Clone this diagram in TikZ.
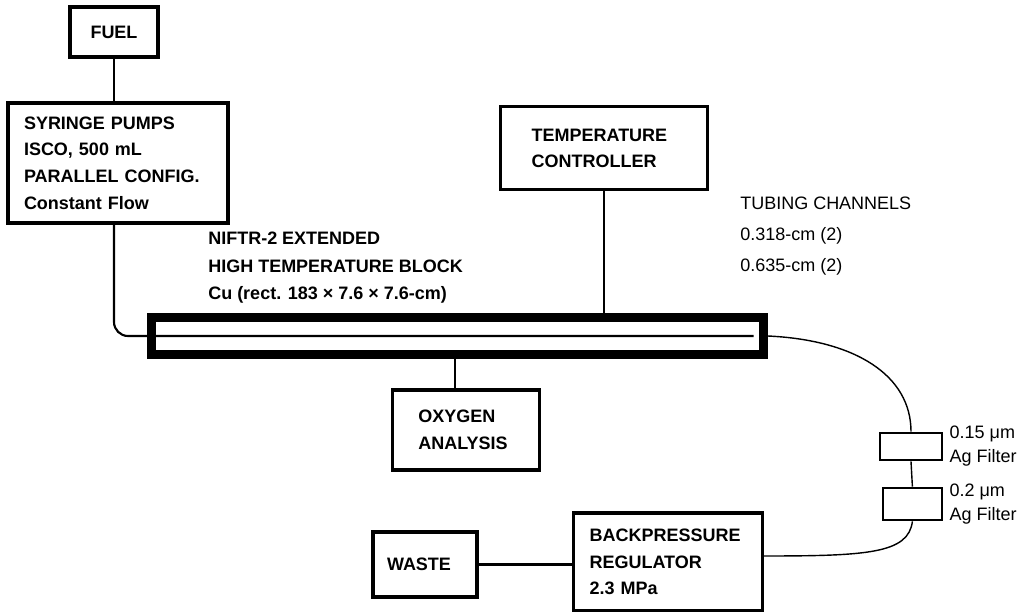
\documentclass[tikz,border=0pt]{standalone}
\usepackage{fontspec}
\setmainfont{Liberation Sans}
\usepackage{tikz}
\usetikzlibrary{positioning}

\begin{document}
\begin{tikzpicture}[
  unit/.style={draw,line width=2.2pt,align=left,inner xsep=0.38cm,
               font=\bfseries\fontsize{12.8}{19}\selectfont},
  blockbody/.style={draw,line width=6.4pt,minimum width=15.3cm,minimum height=0.94cm,inner sep=0pt},
  filt/.style={draw,line width=2pt,inner sep=0pt},
  note/.style={align=left,anchor=west,inner sep=0pt,font=\fontsize{12.8}{19}\selectfont},
  pipe/.style={line width=1.5pt},
  tube/.style={line width=1pt}]

  \useasboundingbox (0,0) rectangle (25.775,15.3);

  \node[unit,align=center,minimum width=2.2cm,minimum height=1.25cm] (fuel) at (2.85,14.5) {FUEL};
  \node[unit,text width=4.7cm,minimum width=5.5cm,minimum height=3cm] (pumps) at (2.95,11.225)
       {SYRINGE PUMPS\\ISCO, 500 mL\\PARALLEL CONFIG.\\Constant Flow};
  \node[unit,inner xsep=0.75cm,text width=3.6cm,minimum width=5.175cm,minimum height=2.075cm] (tempctl) at (15.09,11.59)
       {TEMPERATURE\\CONTROLLER};
  \node[blockbody] (block) at (11.43,6.9) {};
  \node[unit,inner xsep=0.62cm,text width=2.4cm,minimum width=3.675cm,minimum height=2cm] (oxygen) at (11.66,4.55)
       {OXYGEN\\ANALYSIS};
  \node[unit,inner xsep=0.35cm,text width=1.9cm,minimum width=2.6cm,minimum height=1.625cm] (waste) at (10.625,1.1875) {WASTE};
  \node[unit,inner xsep=0.4cm,text width=3.9cm,minimum width=4.725cm,minimum height=2.45cm] (bpr) at (16.69,1.25)
       {BACKPRESSURE\\REGULATOR\\2.3 MPa};
  \node[filt,minimum width=1.55cm,minimum height=0.675cm] (filterA) at (22.775,4.1375) {};
  \node[filt,minimum width=1.475cm,minimum height=0.8cm]  (filterB) at (22.81,2.7) {};

  \node[note,font=\bfseries\fontsize{12.8}{19.5}\selectfont] (blocklbl) at (5.2,8.6)
       {NIFTR-2 EXTENDED\\HIGH TEMPERATURE BLOCK\\Cu (rect. 183 × 7.6 × 7.6-cm)};
  \node[note,font=\fontsize{12.8}{22}\selectfont] (tubelbl) at (18.5,9.39)
       {TUBING CHANNELS\\0.318-cm (2)\\0.635-cm (2)};
  \node[note,font=\fontsize{12.8}{17}\selectfont,right=0.15cm of filterA] (filterAlbl) {0.15 μm\\Ag Filter};
  \node[note,font=\fontsize{12.8}{17}\selectfont,right=0.15cm of filterB] (filterBlbl) {0.2 μm\\Ag Filter};

  \coordinate (oxyin) at ([xshift=-0.28cm]oxygen.north);

  \draw[pipe] (fuel.south) -- (fuel.south |- pumps.north);
  \draw[pipe,rounded corners=0.35cm] (fuel.south |- pumps.south) |- ([xshift=-0.35cm]block.east);
  \draw[pipe] (tempctl.south) -- (tempctl.south |- block.north);
  \draw[pipe] (oxyin) -- (oxyin |- block.south);
  \draw[tube] (block.east) .. controls +(2.2,-0.1) and +(0,1.4) .. (filterA.north);
  \draw[tube] (filterA.south) -- (filterB.north);
  \draw[tube] (filterB.south) .. controls +(-0.1,-0.8) and +(2.6,0) .. ([yshift=0.15cm]bpr.east);
  \draw[pipe] (waste.east) -- (waste.east -| bpr.west);
\end{tikzpicture}
\end{document}
